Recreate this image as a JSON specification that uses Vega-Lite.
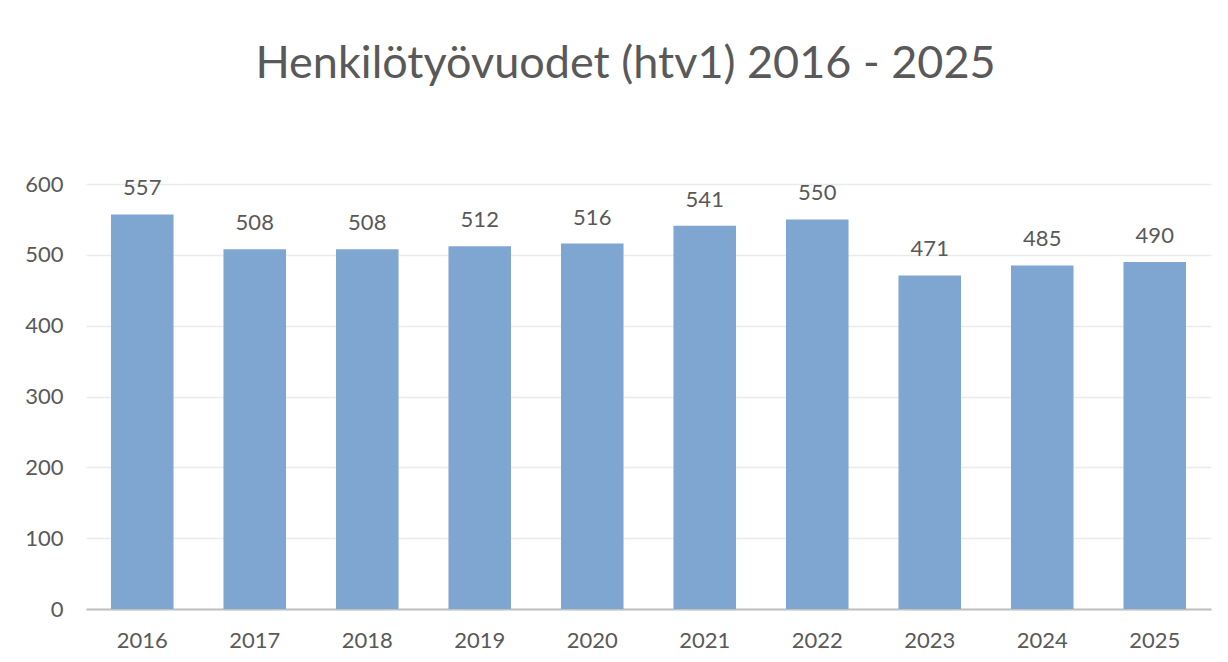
{
  "$schema": "https://vega.github.io/schema/vega-lite/v6.json",
  "autosize": "none",
  "width": 1125,
  "height": 425,
  "padding": {"left": 86, "top": 184, "right": 17, "bottom": 53},
  "background": "white",
  "title": {
    "text": "Henkilötyövuodet (htv1) 2016 - 2025",
    "font": "Lato",
    "fontSize": 45,
    "fontWeight": "normal",
    "color": "#595959",
    "anchor": "middle",
    "offset": 86,
    "dx": -23
  },
  "data": {
    "values": [
      {"vuosi": "2016", "htv": 557},
      {"vuosi": "2017", "htv": 508},
      {"vuosi": "2018", "htv": 508},
      {"vuosi": "2019", "htv": 512},
      {"vuosi": "2020", "htv": 516},
      {"vuosi": "2021", "htv": 541},
      {"vuosi": "2022", "htv": 550},
      {"vuosi": "2023", "htv": 471},
      {"vuosi": "2024", "htv": 485},
      {"vuosi": "2025", "htv": 490}
    ]
  },
  "encoding": {
    "x": {
      "field": "vuosi",
      "type": "ordinal",
      "title": null,
      "scale": {"paddingInner": 0.444, "paddingOuter": 0.222},
      "axis": {
        "labelAngle": 0,
        "labelFont": "Lato",
        "labelFontSize": 22,
        "labelColor": "#595959",
        "labelPadding": 21,
        "ticks": false,
        "domainColor": "#bfbfbf",
        "domainWidth": 2
      }
    },
    "y": {
      "field": "htv",
      "type": "quantitative",
      "title": null,
      "scale": {"domain": [0, 600], "nice": false},
      "axis": {
        "values": [0, 100, 200, 300, 400, 500, 600],
        "labelFont": "Lato",
        "labelFontSize": 22,
        "labelColor": "#595959",
        "labelPadding": 23,
        "ticks": false,
        "domain": false,
        "gridColor": "#ebebeb",
        "gridWidth": 1.3
      }
    }
  },
  "layer": [
    {"mark": {"type": "bar", "color": "#7FA6D1"}},
    {
      "mark": {"type": "text", "baseline": "bottom", "dy": -14, "font": "Lato", "fontSize": 22, "color": "#595959"},
      "encoding": {"text": {"field": "htv", "type": "quantitative"}}
    }
  ],
  "config": {"view": {"stroke": null}}
}
